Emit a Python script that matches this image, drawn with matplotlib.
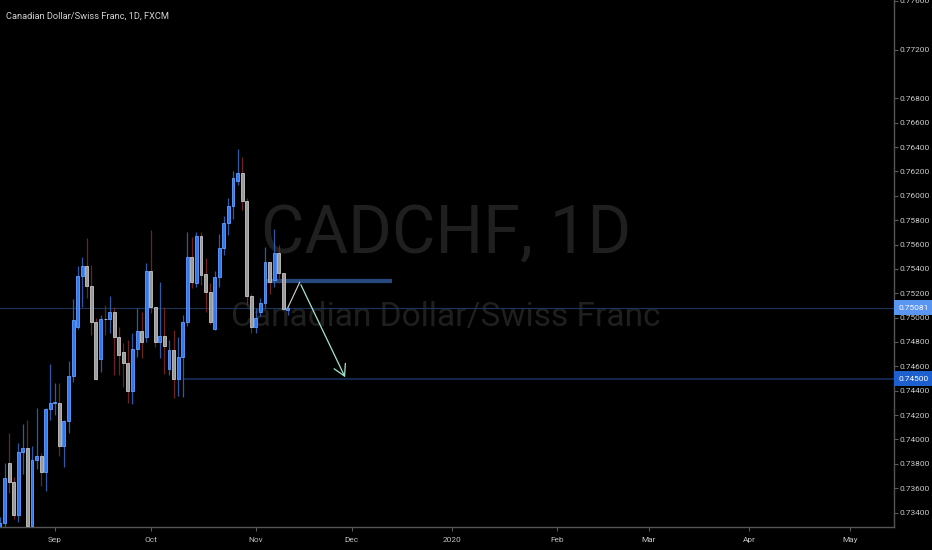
import matplotlib
matplotlib.use("Agg")
import matplotlib.pyplot as plt
from matplotlib import font_manager
import numpy as np
import pandas as pd

# daily CADCHF candles, 15 Aug 2019 .. 12 Nov 2019 (business days)
opens = [0.7318, 0.7331, 0.7381, 0.7365, 0.7338, 0.7390, 0.7393, 0.7329, 0.7383, 0.7386,
         0.7373, 0.7425, 0.7430, 0.7430, 0.7395, 0.7415, 0.7452, 0.7492, 0.7534, 0.7542,
         0.7526, 0.7496, 0.7466, 0.7499, 0.7499, 0.7505, 0.7484, 0.7472, 0.7463, 0.7440,
         0.7474, 0.7489, 0.7484, 0.7538, 0.7509, 0.7480, 0.7485, 0.7458, 0.7473, 0.7450,
         0.7468, 0.7496, 0.7550, 0.7528, 0.7567, 0.7536, 0.7521, 0.7491, 0.7533, 0.7557,
         0.7578, 0.7592, 0.7612, 0.7619, 0.7596, 0.7518, 0.7492, 0.7505, 0.7512, 0.7546,
         0.7531, 0.7553, 0.7537, 0.7506]
highs = [0.7336, 0.7381, 0.7405, 0.7369, 0.7397, 0.7413, 0.7416, 0.7395, 0.7426, 0.7389,
         0.7426, 0.7462, 0.7446, 0.7446, 0.7416, 0.7464, 0.7515, 0.7542, 0.7550, 0.7565,
         0.7543, 0.7500, 0.7502, 0.7510, 0.7518, 0.7509, 0.7492, 0.7479, 0.7482, 0.7487,
         0.7508, 0.7505, 0.7545, 0.7572, 0.7509, 0.7529, 0.7509, 0.7482, 0.7490, 0.7484,
         0.7502, 0.7570, 0.7566, 0.7570, 0.7570, 0.7549, 0.7528, 0.7538, 0.7569, 0.7583,
         0.7598, 0.7620, 0.7638, 0.7632, 0.7598, 0.7519, 0.7508, 0.7516, 0.7558, 0.7546,
         0.7573, 0.7560, 0.7537, 0.7509]
lows = [0.7310, 0.7327, 0.7356, 0.7335, 0.7332, 0.7372, 0.7326, 0.7325, 0.7376, 0.7362,
        0.7358, 0.7416, 0.7420, 0.7386, 0.7377, 0.7405, 0.7447, 0.7491, 0.7509, 0.7516,
        0.7486, 0.7449, 0.7455, 0.7486, 0.7487, 0.7453, 0.7453, 0.7443, 0.7430, 0.7429,
        0.7468, 0.7467, 0.7480, 0.7504, 0.7476, 0.7467, 0.7454, 0.7453, 0.7434, 0.7436,
        0.7435, 0.7493, 0.7524, 0.7525, 0.7527, 0.7505, 0.7495, 0.7490, 0.7525, 0.7551,
        0.7568, 0.7581, 0.7609, 0.7588, 0.7510, 0.7487, 0.7487, 0.7501, 0.7508, 0.7519,
        0.7525, 0.7528, 0.7507, 0.7502]
closes = [0.7331, 0.7368, 0.7365, 0.7338, 0.7390, 0.7393, 0.7329, 0.7383, 0.7386, 0.7373,
          0.7425, 0.7430, 0.7431, 0.7395, 0.7415, 0.7452, 0.7498, 0.7534, 0.7542, 0.7526,
          0.7496, 0.7450, 0.7499, 0.74985, 0.7505, 0.7484, 0.7469, 0.7463, 0.7440, 0.7474,
          0.7489, 0.7480, 0.7538, 0.7509, 0.7480, 0.7485, 0.7477, 0.7473, 0.7450, 0.7468,
          0.7496, 0.7550, 0.7529, 0.7567, 0.7535, 0.7521, 0.7496, 0.7533, 0.7557, 0.7578,
          0.7592, 0.7615, 0.7619, 0.7596, 0.7518, 0.7492, 0.7500, 0.7512, 0.7546, 0.7529,
          0.7553, 0.7537, 0.7507, 0.75081]

last_price = 0.75081
target_level = 0.7450
resistance = 0.7530
# drawn projection: start bar, swing up, target (bar index, price)
arrow_x = [63, 65.6, 75.8]
arrow_y = [0.75081, 0.7529, 0.7449]

price_ticks = [0.776, 0.772, 0.768, 0.766, 0.764, 0.762, 0.760, 0.758, 0.756, 0.754,
               0.752, 0.750, 0.748, 0.746, 0.744, 0.742, 0.740, 0.738, 0.736, 0.734]

days = pd.bdate_range("2019-08-15", "2020-05-29")


def has_font(name):
    try:
        font_manager.findfont(font_manager.FontProperties(family=name), fallback_to_default=False)
        return True
    except ValueError:
        return False


if has_font("Liberation Sans Narrow"):
    FONT, k = "Liberation Sans Narrow", 1.0
else:
    FONT, k = "Roboto", 0.86
plt.rcParams["font.family"] = [FONT, "DejaVu Sans"]

fig = plt.figure(figsize=(9.32, 5.5), dpi=100, facecolor="black")
ax = fig.add_axes([0, 23 / 550, 893.6 / 932, 527 / 550], facecolor="black")

o = np.array(opens)
h = np.array(highs)
l = np.array(lows)
c = np.array(closes)
x = np.arange(len(o))
up = c >= o

# wicks
ax.vlines(x[up], l[up], h[up], color="#2b5aa6", lw=0.9, zorder=3)
ax.vlines(x[~up], l[~up], h[~up], color="#6e2222", lw=0.9, zorder=3)
# bodies
body_lo = np.minimum(o, c)
body_h = np.maximum(np.abs(c - o), 0.00002)
ax.bar(x[up], body_h[up], bottom=body_lo[up], width=0.64, color="#3179f3",
       edgecolor="#62a0ff", linewidth=0.6, zorder=4)
ax.bar(x[~up], body_h[~up], bottom=body_lo[~up], width=0.64, color="#9a9a9a",
       edgecolor="#c6c6c6", linewidth=0.6, zorder=4)

# levels
ax.axhline(last_price, color="#1b3556", lw=0.8, zorder=2)
ax.hlines(target_level, 40, 200, color="#173168", lw=1.1, zorder=2)
ax.hlines(resistance, 58, 85.8, color="#264a7e", lw=3.0, zorder=2)

# projection arrow
ax.plot(arrow_x[:2], arrow_y[:2], color="#d4d4d4", lw=0.8, zorder=5)
ax.annotate("", xy=(arrow_x[2], arrow_y[2]), xytext=(arrow_x[1], arrow_y[1]),
            arrowprops=dict(arrowstyle="->,head_length=0.8,head_width=0.45",
                            color="#a2e6d2", lw=0.9), zorder=5)

# watermark
ax.text(0.499, 0.52, "CADCHF, 1D", transform=ax.transAxes, ha="center", va="baseline",
        fontsize=56 * k, color="#1f1f1f", zorder=0.5)
ax.text(0.499, 0.382, "Canadian Dollar/Swiss Franc", transform=ax.transAxes, ha="center",
        va="baseline", fontsize=28 * k, color="#1f1f1f", zorder=0.5)

fig.text(6 / 932, 1 - 18.5 / 550, "Canadian Dollar/Swiss Franc, 1D, FXCM", fontsize=7.8 * k,
         color="#d2d2d2", va="baseline", ha="left")

ax.set_xlim(0, 195.6)
ax.set_ylim(0.732812, 0.77607)

# month ticks on first business day of each month
month_idx = [i for i in range(1, len(days)) if days[i].month != days[i - 1].month]
month_lbl = ["2020" if days[i].month == 1 else days[i].strftime("%b") for i in month_idx]
ax.set_xticks(month_idx)
ax.set_xticklabels(month_lbl)
ax.set_yticks(price_ticks)
ax.set_yticklabels(["%.5f" % t for t in price_ticks])
ax.yaxis.tick_right()
ax.tick_params(axis="y", colors="#5a5a5a", labelcolor="#cccccc", labelsize=6.9 * k,
               length=3, width=0.8, pad=1.5)
ax.tick_params(axis="x", colors="#5a5a5a", labelcolor="#c0c0c0", labelsize=6.9 * k,
               length=3, width=0.8, pad=4)

for side in ["left", "top"]:
    ax.spines[side].set_visible(False)
for side in ["right", "bottom"]:
    ax.spines[side].set_color("#555555")
    ax.spines[side].set_linewidth(1.0)

# price tags on the scale
ytr = ax.get_yaxis_transform()
ax.text(1.0055, last_price, "%.5f" % last_price, transform=ytr, ha="left", va="center",
        fontsize=6.9 * k, color="white", clip_on=False, zorder=10,
        bbox=dict(boxstyle="square,pad=0.55", fc="#5a95f2", ec="none"))
ax.text(1.0055, target_level, "%.5f" % target_level, transform=ytr, ha="left", va="center",
        fontsize=6.9 * k, color="white", clip_on=False, zorder=10,
        bbox=dict(boxstyle="square,pad=0.55", fc="#1d5fcf", ec="none"))

fig.savefig("out.png", dpi=100, facecolor="black")
